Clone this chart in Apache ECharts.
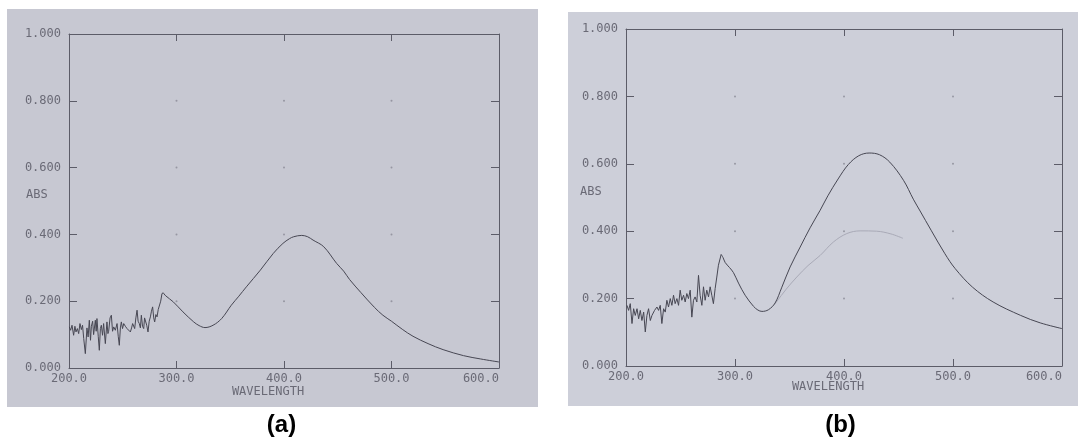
<!DOCTYPE html>
<html><head><meta charset="utf-8">
<script src="https://cdn.jsdelivr.net/npm/echarts@6/dist/echarts.min.js"></script>
<style>html,body{margin:0;padding:0;background:#fff}#c{width:1078px;height:439px}</style>
</head><body><div id="c"></div>
<script>
// ---- data ----
const xTicks = [200, 300, 400, 500, 600];
const yTicks = [0, 0.2, 0.4, 0.6, 0.8, 1.0];
const xName = 'WAVELENGTH';
const yName = 'ABS';
const panelLabels = ['(a)', '(b)'];

// panel (a): noisy UV region
const aNoise = [[200.3,0.123],[201.5,0.113],[202.8,0.128],[204.3,0.098],[205.5,0.125],[206.5,0.108],[207.8,0.118],[209,0.103],[210.2,0.133],[211.5,0.115],[212.6,0.128],[213.7,0.088],[215.2,0.043],[216.7,0.120],[217.8,0.093],[218.9,0.143],[220,0.083],[220.8,0.125],[222,0.140],[222.9,0.100],[224.5,0.143],[225.3,0.110],[226,0.148],[227.2,0.095],[228.2,0.053],[229.2,0.118],[230.1,0.128],[231.2,0.098],[232.2,0.133],[233.8,0.073],[235.3,0.138],[236.2,0.103],[236.9,0.110],[238.2,0.150],[239.4,0.158],[240.5,0.110],[241.6,0.123],[243.1,0.113],[244.7,0.133],[245.8,0.095],[246.8,0.068],[247.8,0.120],[248.7,0.138],[249.8,0.118],[250.9,0.133],[252.4,0.125],[254,0.118],[255.6,0.113],[257.1,0.108],[258.2,0.120],[259.2,0.133],[260.2,0.128],[261.1,0.118],[262.2,0.150],[263.3,0.173],[264.3,0.140],[265.4,0.133],[266.4,0.120],[267.3,0.158],[268.4,0.125],[269.5,0.118],[270.3,0.150],[271,0.153],[272.3,0.128],[273.5,0.108],[274.6,0.140],[275.7,0.153],[276.7,0.170],[277.8,0.183],[278.8,0.150],[279.7,0.138],[280.8,0.160],[281.9,0.153],[283,0.175],[284.1,0.173],[285.3,0.200],[286.5,0.223],[287.7,0.225]];
// panel (a): smooth band
const aBand = [[290,0.216],[297,0.198],[306,0.168],[316,0.138],[321,0.127],[326.5,0.121],[334,0.128],[342,0.148],[351,0.188],[358,0.215],[365,0.243],[378,0.293],[390,0.343],[399,0.373],[405,0.387],[409,0.393],[416.5,0.397],[422,0.393],[427,0.383],[437,0.363],[449,0.313],[455.5,0.290],[461,0.265],[471.5,0.226],[484,0.182],[492,0.158],[500,0.140],[510,0.116],[520,0.095],[534,0.073],[548,0.055],[567,0.037],[583,0.027],[600,0.018]];

// panel (b): noisy UV region
const bNoise = [[200.9,0.180],[202.4,0.165],[203.9,0.185],[205.5,0.126],[207,0.170],[208.5,0.150],[210.1,0.170],[211.6,0.140],[213.1,0.165],[214.6,0.135],[216.2,0.160],[217.7,0.101],[219.2,0.150],[220.7,0.170],[222.3,0.135],[223.8,0.150],[226.2,0.165],[228.4,0.175],[229.9,0.165],[231.4,0.180],[232.9,0.126],[234.5,0.170],[236,0.160],[237.5,0.195],[239,0.175],[240.6,0.200],[242.1,0.180],[243.6,0.210],[245.1,0.185],[246.7,0.200],[248.2,0.180],[249.7,0.225],[251.2,0.195],[252.8,0.210],[254.3,0.190],[255.8,0.215],[257.3,0.200],[258.9,0.225],[260.4,0.145],[261.9,0.195],[263.4,0.205],[265,0.190],[266.5,0.269],[268,0.210],[269.6,0.180],[271.1,0.235],[272.6,0.195],[274.1,0.225],[275.7,0.205],[277.2,0.235],[278.7,0.210],[280.2,0.185],[281.8,0.230],[283.3,0.264],[284.8,0.299],[287.3,0.331]];
// panel (b): smooth band (upper trace)
const bBand = [[289,0.322],[291,0.307],[295,0.292],[298.6,0.277],[303.2,0.246],[309.3,0.210],[317,0.177],[321,0.166],[324.7,0.162],[330.7,0.167],[336.8,0.187],[343,0.234],[350.6,0.294],[359.8,0.353],[368.9,0.410],[378.1,0.462],[385.2,0.505],[394.6,0.555],[404,0.598],[413.6,0.624],[423,0.632],[432.5,0.627],[442,0.605],[454.6,0.551],[463.6,0.495],[469.8,0.460],[479.9,0.403],[492.6,0.333],[502,0.289],[517.9,0.234],[536.8,0.190],[562.1,0.150],[580,0.128],[600,0.111]];
// panel (b): faint lower trace
const bFaint = [[336,0.182],[338,0.190],[347,0.228],[356.7,0.264],[367,0.298],[378.1,0.328],[390.3,0.368],[402.6,0.393],[414.8,0.401],[430,0.400],[443,0.392],[454,0.379]];

// ---- styling ----
const MONO = "'DejaVu Sans Mono', 'Liberation Mono', monospace";
const axisC = '#5c5c68';
const textC = '#6a6a76';
const curveC = '#474753';

const grids = [
  {left: 69, top: 34, width: 430, height: 334},
  {left: 626, top: 29, width: 436, height: 337}
];

const xAxes = [], yAxes = [];
grids.forEach((g, gi) => {
  const common = {gridIndex: gi, type: 'value', min: xTicks[0], max: xTicks[xTicks.length-1], interval: 100,
    axisLine: {show: true, onZero: false, lineStyle: {color: axisC, width: 1}},
    axisTick: {show: true, inside: true, length: 7, lineStyle: {color: axisC}},
    splitLine: {show: false}};
  xAxes.push(Object.assign({}, common, {position: 'bottom',
    axisLabel: {show: true, margin: 5, formatter: v => v.toFixed(1), fontFamily: MONO, fontSize: 12, color: textC, alignMaxLabel: 'right'}}));
  xAxes.push(Object.assign({}, common, {position: 'top', axisLabel: {show: false}}));
  const ycommon = {gridIndex: gi, type: 'value', min: yTicks[0], max: yTicks[yTicks.length-1], interval: 0.2,
    axisLine: {show: true, onZero: false, lineStyle: {color: axisC, width: 1}},
    axisTick: {show: true, inside: true, length: 8, lineStyle: {color: axisC}},
    splitLine: {show: false}};
  yAxes.push(Object.assign({}, ycommon, {position: 'left',
    axisLabel: {show: true, margin: 8, formatter: v => v.toFixed(3), fontFamily: MONO, fontSize: 12, color: textC}}));
  yAxes.push(Object.assign({}, ycommon, {position: 'right', axisLabel: {show: false}}));
});

const dots = [];
xTicks.slice(1, -1).forEach(x => yTicks.slice(1, -1).forEach(y => dots.push([x, y])));

const lineSeries = (data, gi, color, width, z, smooth) => ({
  type: 'line', xAxisIndex: gi*2, yAxisIndex: gi*2, data: data, showSymbol: false, symbol: 'none',
  smooth: smooth || false, lineStyle: {color: color, width: width}, z: z, silent: true
});

const series = [
  lineSeries(aNoise, 0, curveC, 1, 5),
  lineSeries([aNoise[aNoise.length-1]].concat(aBand), 0, curveC, 1, 5, 0.35),
  lineSeries(bFaint, 1, '#a9aab7', 1, 4, 0.35),
  lineSeries(bNoise, 1, curveC, 1, 5),
  lineSeries([bNoise[bNoise.length-1]].concat(bBand), 1, curveC, 1, 5, 0.35),
  {type: 'scatter', xAxisIndex: 0, yAxisIndex: 0, data: dots, symbolSize: 2, itemStyle: {color: '#8a8a96'}, silent: true},
  {type: 'scatter', xAxisIndex: 2, yAxisIndex: 2, data: dots, symbolSize: 2, itemStyle: {color: '#8a8a96'}, silent: true}
];

const txt = (x, y, text, font, fill, align) => ({type: 'text', x: x, y: y, z: 10,
  style: {text: text, font: font, fill: fill, align: align || 'center', verticalAlign: 'middle'}});

const graphic = [
  {type: 'rect', shape: {x: 7, y: 9, width: 531, height: 398}, style: {fill: '#c7c8d2'}, z: -10},
  {type: 'rect', shape: {x: 568, y: 12, width: 510, height: 394}, style: {fill: '#cdcfd9'}, z: -10},
  txt(26, 195, yName, '12px ' + MONO, textC, 'left'),
  txt(580, 192, yName, '12px ' + MONO, textC, 'left'),
  txt(268, 392, xName, '12px ' + MONO, textC),
  txt(828, 387, xName, '12px ' + MONO, textC),
  txt(281.5, 425, panelLabels[0], 'bold 24px "Liberation Sans", Arial, sans-serif', '#000'),
  txt(840.5, 425, panelLabels[1], 'bold 24px "Liberation Sans", Arial, sans-serif', '#000')
];

const chart = echarts.init(document.getElementById('c'), null, {renderer: 'canvas'});
chart.setOption({
  backgroundColor: '#ffffff',
  animation: false,
  grid: grids,
  xAxis: xAxes,
  yAxis: yAxes,
  series: series,
  graphic: graphic
});
</script></body></html>
